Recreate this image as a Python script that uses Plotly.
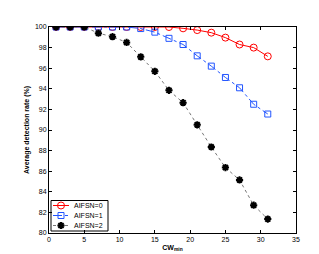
import plotly.graph_objects as go

cw = [1, 3, 5, 7, 9, 11, 13, 15, 17, 19, 21, 23, 25, 27, 29, 31]
aifsn0 = [100, 100, 100, 100, 100, 100, 100, 100, 100, 99.87, 99.7, 99.45, 98.97, 98.3, 98.0, 97.15]
aifsn1 = [100, 100, 100, 100, 100, 100, 99.85, 99.5, 98.9, 98.3, 97.2, 96.2, 95.1, 94.1, 92.5, 91.55]
aifsn2 = [100, 100, 100, 99.4, 99.06, 98.5, 97.1, 95.7, 93.85, 92.65, 90.5, 88.35, 86.35, 85.15, 82.7, 81.35]
names = ["AIFSN=0", "AIFSN=1", "AIFSN=2"]
xticks = [0, 5, 10, 15, 20, 25, 30, 35]
yticks = [80, 82, 84, 86, 88, 90, 92, 94, 96, 98, 100]

FONT = "Liberation Sans, Arial"
styles = [
    dict(line=dict(color="#ff0000", width=1),
         marker=dict(symbol="circle-open", size=7, color="#ff0000", line=dict(width=1, color="#ff0000"))),
    dict(line=dict(color="#2255ff", width=1, dash="dashdot"),
         marker=dict(symbol="square-open", size=6, color="#2255ff", line=dict(width=1, color="#2255ff"))),
    dict(line=dict(color="#777777", width=1, dash="dot"),
         marker=dict(symbol="asterisk-open", size=6, color="#000000", line=dict(width=2, color="#000000"))),
]
series = [aifsn0, aifsn1, aifsn2]

fig = go.Figure()
for name, ys, st in zip(names, series, styles):
    fig.add_trace(go.Scatter(x=cw, y=ys, name=name, mode="lines+markers",
                             line=st["line"], marker=st["marker"], showlegend=False))

# compact legend drawn on a pixel-unit overlay axis
rows = [197.5, 207.5, 217.5]
for name, st, ry in zip(names, styles, rows):
    fig.add_trace(go.Scatter(x=[45, 61], y=[ry, ry], mode="lines", line=st["line"],
                             xaxis="x2", yaxis="y2", showlegend=False, hoverinfo="skip"))
    fig.add_trace(go.Scatter(x=[53], y=[ry], mode="markers", marker=st["marker"],
                             xaxis="x2", yaxis="y2", showlegend=False, hoverinfo="skip"))
    fig.add_annotation(x=64, y=ry, xref="x2", yref="y2", text=name, showarrow=False,
                       xanchor="left", yanchor="middle",
                       font=dict(family=FONT, size=7, color="#000000"))
fig.add_shape(type="rect", x0=43, x1=100, y0=192.5, y1=223, xref="x2", yref="y2",
              line=dict(color="#000000", width=1), fillcolor="#ffffff", layer="below")

axis_common = dict(showgrid=False, zeroline=False, showline=True, linecolor="#000000", linewidth=1,
                   mirror="ticks", ticks="inside", ticklen=3, tickcolor="#000000",
                   tickfont=dict(family=FONT, size=7, color="#000000"))

fig.update_layout(
    width=319, height=254,
    margin=dict(l=41, r=31, t=19, b=29),
    paper_bgcolor="#ffffff", plot_bgcolor="#ffffff",
    xaxis=dict(range=[0, 35], tickvals=xticks,
               title=dict(text="<b>CW<sub>min</sub></b>", standoff=2,
                          font=dict(family=FONT, size=7, color="#000000")),
               **axis_common),
    yaxis=dict(range=[80, 100], tickvals=yticks,
               title=dict(text="<b>Average detection rate (%)</b>", standoff=4,
                          font=dict(family=FONT, size=7, color="#000000")),
               **axis_common),
    xaxis2=dict(range=[41, 288], overlaying="x", visible=False, fixedrange=True),
    yaxis2=dict(range=[225, 19], overlaying="y", visible=False, fixedrange=True),
    showlegend=False,
)

fig.write_html("out.html")
